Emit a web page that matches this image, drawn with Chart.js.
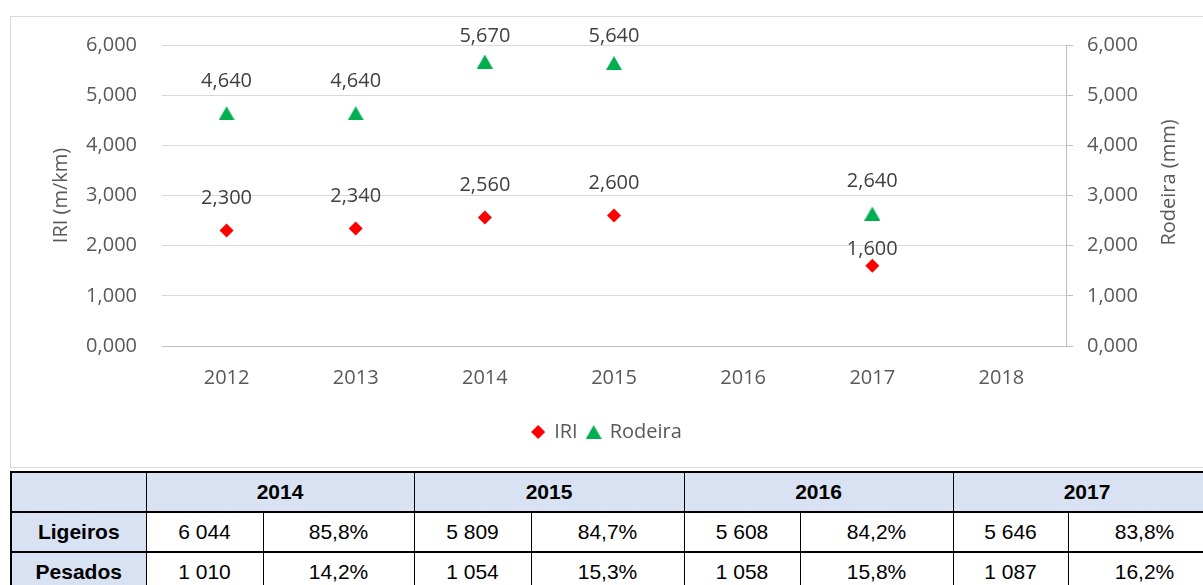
<!DOCTYPE html>
<html>
<head>
<meta charset="utf-8">
<script src="https://cdn.jsdelivr.net/npm/chart.js@4.4.1/dist/chart.umd.min.js"></script>
<style>
  body { margin: 0; background: #fff; width: 1203px; height: 585px; overflow: hidden; position: relative; }
  #chartBox {
    position: absolute; left: 10px; top: 16px; width: 1193px; height: 450px;
    border: 1px solid #d9d9d9; border-right: none; background: #fff;
  }
  #traffic {
    position: absolute; left: 10px; top: 471px; width: 1210px;
    border-collapse: collapse; table-layout: fixed;
    font-family: "Liberation Sans", Arial, sans-serif; font-size: 21px; color: #000;
  }
  #traffic td {
    height: 38px; padding: 0; text-align: center;
    border-top: 2px solid #000; border-bottom: 2px solid #000;
    border-left: 1px solid #000; border-right: 1px solid #000;
  }
  #traffic td.head { background: #d9e2f3; font-weight: bold; }
  #traffic td.first { border-left: 2px solid #000; }
</style>
</head>
<body>
<div id="chartBox"><canvas id="iriChart" width="1192" height="450"></canvas></div>
<table id="traffic">
  <colgroup>
    <col style="width:135px"><col style="width:117px"><col style="width:151px">
    <col style="width:117px"><col style="width:153px"><col style="width:116px">
    <col style="width:153px"><col style="width:115px"><col style="width:153px">
  </colgroup>
  <tbody></tbody>
</table>
<script>
const years = ['2012', '2013', '2014', '2015', '2016', '2017', '2018'];
const iriValues = [2.30, 2.34, 2.56, 2.60, null, 1.60, null];
const rodeiraValues = [4.64, 4.64, 5.67, 5.64, null, 2.64, null];
const yTicks = [0, 1, 2, 3, 4, 5, 6];

const tableYears = ['2014', '2015', '2016', '2017'];
const ligeirosCount = ['6 044', '5 809', '5 608', '5 646'];
const ligeirosPct = ['85,8%', '84,7%', '84,2%', '83,8%'];
const pesadosCount = ['1 010', '1 054', '1 058', '1 087'];
const pesadosPct = ['14,2%', '15,3%', '15,8%', '16,2%'];

const gray = '#595959';
const fontFamily = '"Open Sans", "Segoe UI", sans-serif';
const fmt = (v) => v.toFixed(3).replace('.', ',');

// Triangle marker as a small canvas so it sits centred on the point
function triangleMarker(w, h, color) {
  const c = document.createElement('canvas');
  c.width = w; c.height = h;
  const g = c.getContext('2d');
  g.fillStyle = color;
  g.beginPath();
  g.moveTo(w / 2, 0);
  g.lineTo(w, h);
  g.lineTo(0, h);
  g.closePath();
  g.fill();
  return c;
}
const greenTriangle = triangleMarker(16, 14, '#00b050');

// Value labels above each point
const valueLabels = {
  id: 'valueLabels',
  afterDatasetsDraw(chart) {
    const ctx = chart.ctx;
    const minY = chart.chartArea.top - 9;
    ctx.save();
    ctx.font = '20px ' + fontFamily;
    ctx.fillStyle = '#404040';
    ctx.textAlign = 'center';
    ctx.textBaseline = 'middle';
    chart.data.datasets.forEach((ds, i) => {
      chart.getDatasetMeta(i).data.forEach((pt, j) => {
        const v = ds.data[j];
        if (v == null) return;
        // the 2017 IRI label was pulled closer to its marker in the original
        const lift = (i === 0 && j === 5) ? 16 : 32;
        ctx.fillText(fmt(v), pt.x, Math.max(pt.y - lift, minY));
      });
    });
    ctx.restore();
  }
};

// Both axis titles read bottom-to-top
const axisTitles = {
  id: 'axisTitles',
  afterDraw(chart) {
    const ctx = chart.ctx;
    const mid = (chart.chartArea.top + chart.chartArea.bottom) / 2;
    ctx.save();
    ctx.font = '20px ' + fontFamily;
    ctx.fillStyle = gray;
    ctx.textAlign = 'center';
    ctx.textBaseline = 'middle';
    [['IRI (m/km)', 50, mid], ['Rodeira (mm)', 1158, mid - 13]].forEach(([t, x, y]) => {
      ctx.save();
      ctx.translate(x, y);
      ctx.rotate(-Math.PI / 2);
      ctx.fillText(t, 0, 0);
      ctx.restore();
    });
    ctx.restore();
  }
};

const ctx = document.getElementById('iriChart').getContext('2d');
const iriChart = new Chart(ctx, {
  type: 'line',
  data: {
    labels: years,
    datasets: [
      {
        label: 'IRI',
        data: iriValues,
        yAxisID: 'y',
        showLine: false,
        pointStyle: 'rectRot',
        pointRadius: 7,
        pointHoverRadius: 7,
        backgroundColor: '#ff0000',
        borderColor: '#ff0000',
        borderWidth: 0,
      },
      {
        label: 'Rodeira',
        data: rodeiraValues,
        yAxisID: 'y2',
        showLine: false,
        pointStyle: greenTriangle,
        backgroundColor: '#00b050',
        borderColor: '#00b050',
        borderWidth: 0,
      },
    ],
  },
  options: {
    responsive: false,
    animation: false,
    layout: { padding: { left: 0, right: 0, top: 28, bottom: 15 } },
    plugins: {
      tooltip: { enabled: false },
      legend: {
        position: 'bottom',
        labels: {
          usePointStyle: true,
          boxHeight: 10,
          boxWidth: 12,
          padding: 10,
          color: gray,
          font: { family: fontFamily, size: 20 },
        },
      },
    },
    scales: {
      x: {
        offset: true,
        grid: { display: false, drawTicks: false },
        border: { display: true, color: '#bfbfbf', width: 1 },
        ticks: { color: gray, padding: 20, font: { family: fontFamily, size: 20 } },
        afterFit: (s) => { s.height = 66; },
      },
      y: {
        position: 'left',
        min: 0,
        max: 6,
        afterBuildTicks: (s) => { s.ticks = yTicks.map((v) => ({ value: v })); },
        // invisible tick marks keep the labels away from the plot without padding the top
        grid: { color: '#d9d9d9', lineWidth: 1, drawTicks: true, tickLength: 25, tickColor: 'rgba(0,0,0,0)' },
        border: { display: false },
        ticks: { color: gray, padding: 0, font: { family: fontFamily, size: 20 }, callback: (v) => fmt(v) },
        afterFit: (s) => { s.width = 151; },
      },
      y2: {
        position: 'right',
        min: 0,
        max: 6,
        afterBuildTicks: (s) => { s.ticks = yTicks.map((v) => ({ value: v })); },
        grid: { drawOnChartArea: false, drawTicks: true, tickLength: 7, color: '#bfbfbf' },
        border: { display: true, color: '#bfbfbf', width: 1 },
        ticks: { color: gray, padding: 14, font: { family: fontFamily, size: 20 }, callback: (v) => fmt(v) },
        afterFit: (s) => { s.width = 137; },
      },
    },
  },
  plugins: [valueLabels, axisTitles],
});

// Build the traffic table
function buildTable() {
  const body = document.querySelector('#traffic tbody');
  let head = '<tr><td class="head first"></td>';
  tableYears.forEach((y) => { head += `<td class="head" colspan="2">${y}</td>`; });
  head += '</tr>';
  const row = (name, counts, pcts) => {
    let r = `<tr><td class="head first">${name}</td>`;
    counts.forEach((c, i) => { r += `<td>${c}</td><td>${pcts[i]}</td>`; });
    return r + '</tr>';
  };
  body.innerHTML = head + row('Ligeiros', ligeirosCount, ligeirosPct) + row('Pesados', pesadosCount, pesadosPct);
}
buildTable();
</script>
</body>
</html>
